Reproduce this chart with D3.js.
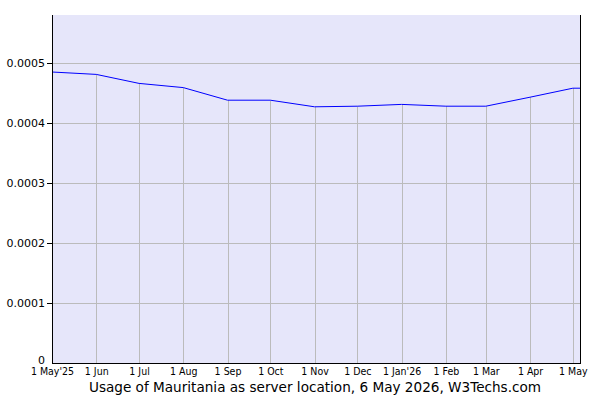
<!DOCTYPE html>
<html>
<head>
<meta charset="utf-8">
<script src="https://cdn.jsdelivr.net/npm/d3@7"></script>
<style>
  body { margin: 0; background: #fff; }
  svg { display: block; }
</style>
</head>
<body>
<div id="chart"></div>
<script>
// Data
const dates = ['2025-05-01', '2025-06-01', '2025-07-01', '2025-08-01', '2025-09-01', '2025-10-01',
    '2025-11-01', '2025-12-01', '2026-01-01', '2026-02-01', '2026-03-01', '2026-04-01', '2026-05-01', '2026-05-06'];
const usage = [0.000485, 0.000481, 0.000466, 0.000459, 0.000438, 0.000438,
    0.000427, 0.000428, 0.000431, 0.000428, 0.000428, 0.000443, 0.000458, 0.000458];
const yTicks = [0, 0.0001, 0.0002, 0.0003, 0.0004, 0.0005];
const xTickDates = ['2025-05-01', '2025-06-01', '2025-07-01', '2025-08-01', '2025-09-01', '2025-10-01',
    '2025-11-01', '2025-12-01', '2026-01-01', '2026-02-01', '2026-03-01', '2026-04-01', '2026-05-01'];
const xTickLabels = ['1 May\'25', '1 Jun', '1 Jul', '1 Aug', '1 Sep', '1 Oct',
    '1 Nov', '1 Dec', '1 Jan\'26', '1 Feb', '1 Mar', '1 Apr', '1 May'];
const title = 'Usage of Mauritania as server location, 6 May 2026, W3Techs.com';

const CONFIG = {
    width: 600,
    height: 400,
    margin: { top: 15, right: 20, bottom: 37, left: 52 }
};

const parse = d3.utcParse('%Y-%m-%d');
const points = dates.map((d, i) => ({ date: parse(d), value: usage[i] }));
// drop lines only at month starts (not at the final partial point)
const drops = points.slice(0, xTickDates.length);

const innerW = CONFIG.width - CONFIG.margin.left - CONFIG.margin.right;
const innerH = CONFIG.height - CONFIG.margin.top - CONFIG.margin.bottom;

const x = d3.scaleUtc()
    .domain([parse(dates[0]), parse(dates[dates.length - 1])])
    .range([0, innerW]);

const y = d3.scaleLinear()
    .domain([0, 0.00058])
    .range([innerH, 0]);

const svg = d3.select('#chart')
    .append('svg')
    .attr('width', CONFIG.width)
    .attr('height', CONFIG.height);

const g = svg.append('g')
    .attr('transform', `translate(${CONFIG.margin.left},${CONFIG.margin.top})`);

// plot background
g.append('rect')
    .attr('width', innerW)
    .attr('height', innerH)
    .attr('fill', '#e6e6fa');

// horizontal grid lines
g.selectAll('.hgrid')
    .data(yTicks.slice(1))
    .enter()
    .append('line')
    .attr('class', 'hgrid')
    .attr('x1', 0)
    .attr('x2', innerW)
    .attr('y1', d => Math.round(y(d)) + 0.5)
    .attr('y2', d => Math.round(y(d)) + 0.5)
    .attr('stroke', '#bbbbbb')
    .attr('stroke-width', 1);

// vertical drop lines from the data line to the baseline
g.selectAll('.vgrid')
    .data(drops.slice(1))
    .enter()
    .append('line')
    .attr('class', 'vgrid')
    .attr('x1', d => Math.round(x(d.date)) + 0.5)
    .attr('x2', d => Math.round(x(d.date)) + 0.5)
    .attr('y1', d => y(d.value))
    .attr('y2', innerH)
    .attr('stroke', '#bbbbbb')
    .attr('stroke-width', 1);

// data line
const line = d3.line()
    .x(d => x(d.date))
    .y(d => y(d.value));

g.append('path')
    .datum(points)
    .attr('d', line)
    .attr('fill', 'none')
    .attr('stroke', '#0000ff')
    .attr('stroke-width', 1);

// y axis
const yAxis = d3.axisLeft(y)
    .tickValues(yTicks)
    .tickSize(5)
    .tickFormat(d => d === 0 ? '0' : d3.format('.4f')(d));

const yG = g.append('g').call(yAxis);
yG.select('.domain').remove();
yG.selectAll('.tick line').attr('stroke', '#000');
yG.selectAll('.tick').filter(d => d === 0).select('line').remove();
yG.selectAll('.tick text')
    .attr('x', -7)
    .style('font-family', 'DejaVu Sans, Verdana, sans-serif')
    .style('font-size', '11px')
    .attr('fill', '#000');
// the zero label sits a little higher, just above the date labels
yG.selectAll('.tick').filter(d => d === 0).select('text').attr('dy', '0.05em');

// x axis labels
const xAxis = d3.axisBottom(x)
    .tickValues(xTickDates.map(parse))
    .tickSize(0)
    .tickFormat((d, i) => xTickLabels[i]);

const xG = g.append('g')
    .attr('transform', `translate(0,${innerH})`)
    .call(xAxis);
xG.select('.domain').remove();
xG.selectAll('.tick text')
    .attr('y', 5)
    .style('font-family', 'DejaVu Sans Condensed, DejaVu Sans, sans-serif')
    .style('font-size', '10.5px')
    .attr('fill', '#000');

// frame: left, right and bottom lines
g.append('line')
    .attr('x1', 0.5).attr('x2', 0.5)
    .attr('y1', 0).attr('y2', innerH + 0.5)
    .attr('stroke', '#000');
g.append('line')
    .attr('x1', innerW + 0.5).attr('x2', innerW + 0.5)
    .attr('y1', 0).attr('y2', innerH + 0.5)
    .attr('stroke', '#000');
g.append('line')
    .attr('x1', 0).attr('x2', innerW + 1)
    .attr('y1', innerH + 0.5).attr('y2', innerH + 0.5)
    .attr('stroke', '#000');

// title
svg.append('text')
    .attr('x', 315)
    .attr('y', 392)
    .attr('text-anchor', 'middle')
    .style('font-family', 'DejaVu Sans, Verdana, sans-serif')
    .style('font-size', '13.6px')
    .attr('fill', '#000')
    .text(title);
</script>
</body>
</html>
